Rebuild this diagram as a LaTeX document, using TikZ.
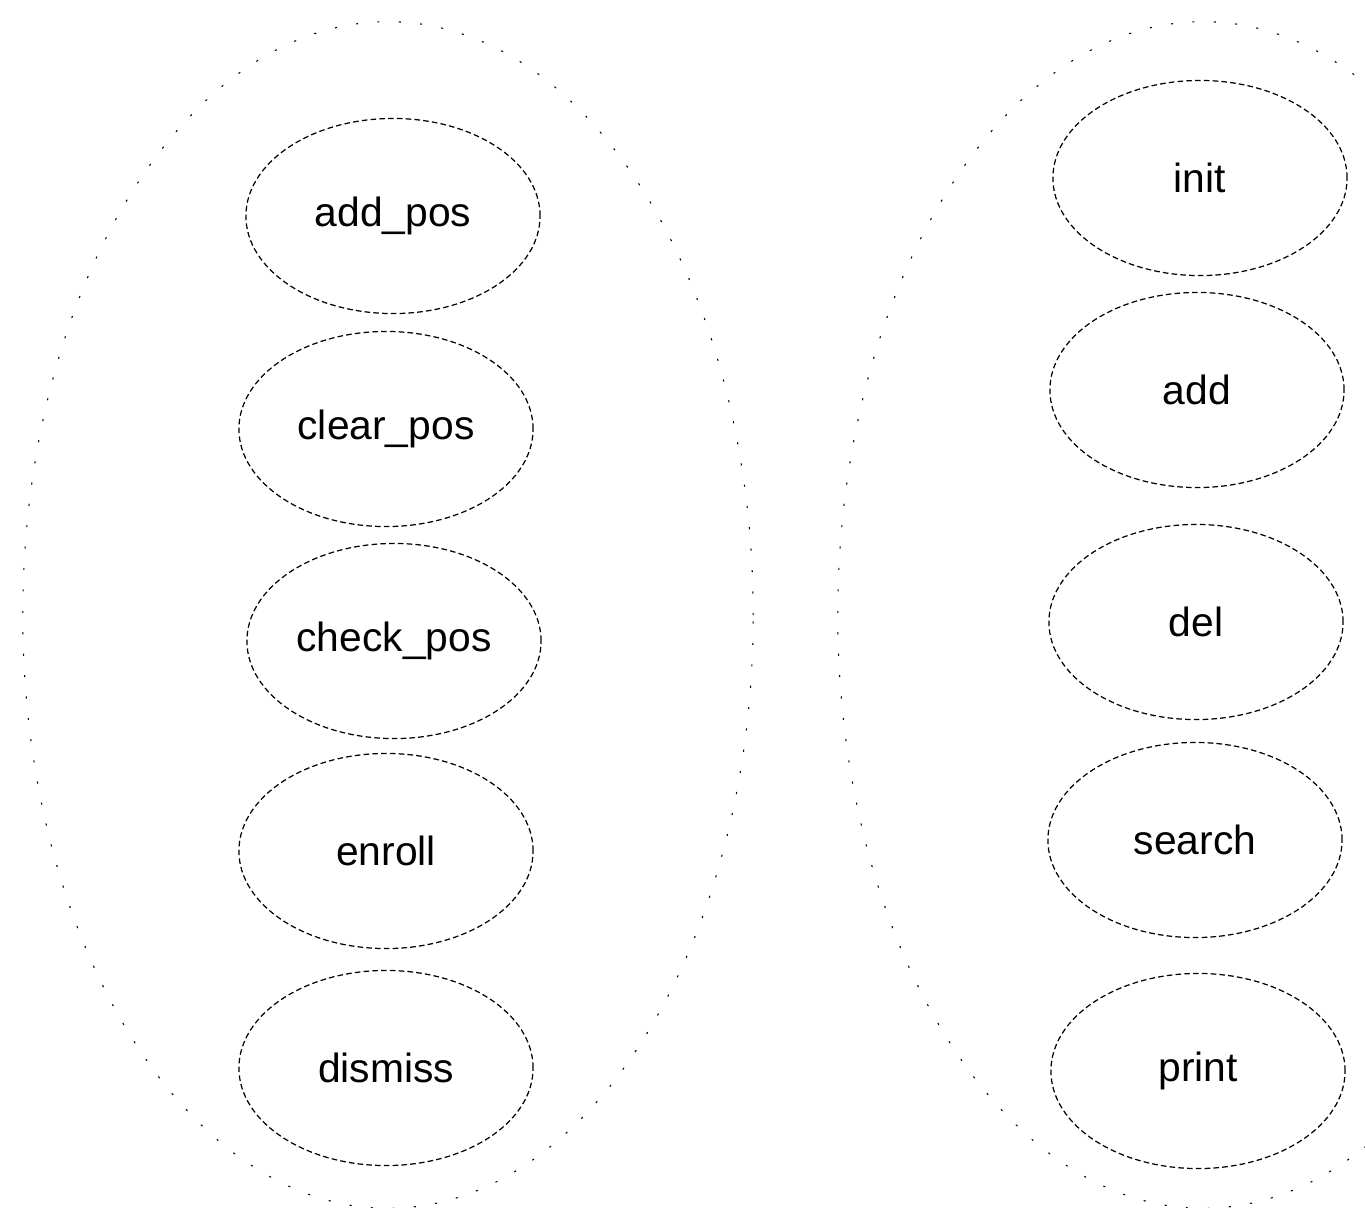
\documentclass[tikz,border=0pt]{standalone}
\usepackage{fontspec}
\setmainfont{Liberation Sans}
\usetikzlibrary{shapes.geometric}

\begin{document}
\begin{tikzpicture}[x=0.01cm,y=-0.01cm]
\tikzset{
	usecase/.style={draw,
		shape=ellipse,
		minimum width=2.94cm,
		minimum height=1.95cm,
		inner sep=0pt,
		line width=0.35pt,
		dash pattern=on 1.6pt off 0.9pt, % thin outline, broken like the original
		font=\fontsize{11.6}{14}\selectfont
},
	group/.style={draw,
		shape=ellipse,
		minimum width=7.3cm,
		minimum height=11.86cm,
		inner sep=0pt,
		line width=0.3pt,
		dash pattern=on 0.6pt off 5.5pt % very faint outer outline
}}

\useasboundingbox (0,0) rectangle (1365,1208);
\clip (0,0) rectangle (1365,1208);

% the two enclosing groups
\node[group] (leftgrp) at (388,615) {};
\node[group] (rightgrp) at (1203,615) {};

% left column
\node[usecase] (addpos) at (393,216) {add\_pos};
\node[usecase] (clearpos) at (386,429) {clear\_pos};
\node[usecase] (checkpos) at (394,641) {check\_pos};
\node[usecase] (enroll) at (386,851) {enroll};
\node[usecase] (dismiss) at (386,1068) {dismiss};

% right column
\node[usecase] (init) at (1200,178) {init};
\node[usecase] (add) at (1197,390) {add};
\node[usecase] (del) at (1196,622) {del};
\node[usecase] (search) at (1195,840) {search};
\node[usecase] (print) at (1198,1071) {print};
\end{tikzpicture}
\end{document}
